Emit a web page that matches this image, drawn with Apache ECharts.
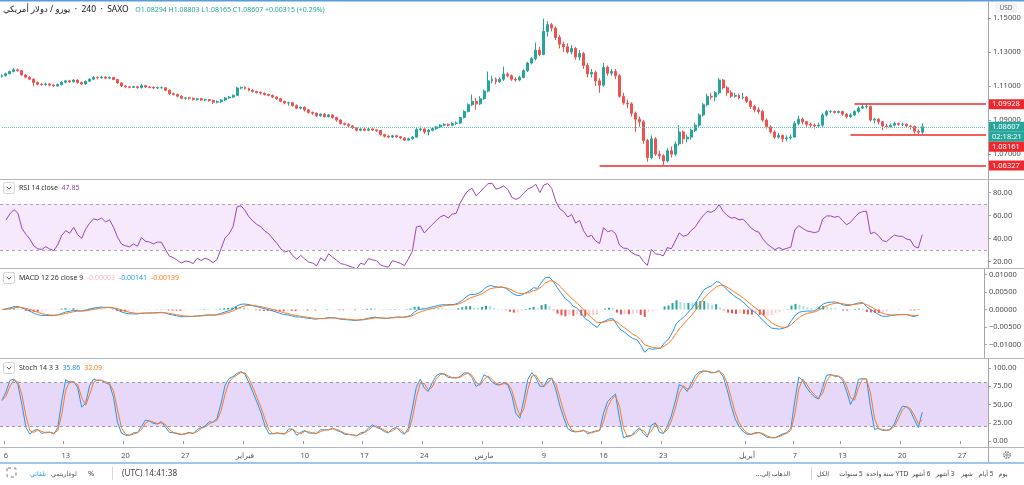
<!DOCTYPE html>
<html><head><meta charset="utf-8">
<script src="https://cdn.jsdelivr.net/npm/echarts@6/dist/echarts.min.js"></script>
<style>html,body{margin:0;padding:0;background:#fff;}#c{width:1024px;height:485px;}</style>
</head><body><div id="c"></div>
<script>
// ---- data: 8-hour bars, EUR/USD, 3 Jan 2020 (last bar) .. 21 Apr 2020 ----
const closes = [1.1160,
1.1172,1.1185,1.1195, 1.1190,1.1165,1.1152, 1.1140,1.1120,1.1110, 1.1108,1.1112,1.1105, 1.1100,1.1108,1.1122,
1.1130,1.1125,1.1135, 1.1120,1.1112,1.1128, 1.1140,1.1150,1.1148, 1.1152,1.1146,1.1150, 1.1138,1.1118,1.1100,
1.1095,1.1092,1.1096, 1.1090,1.1102,1.1094, 1.1092,1.1088,1.1090, 1.1090,1.1075,1.1055, 1.1050,1.1040,1.1028,
1.1030,1.1028,1.1020, 1.1025,1.1018,1.1020, 1.1015,1.1005,1.1008, 1.1018,1.1030,1.1035, 1.1045,1.1088,1.1092,
1.1085,1.1075,1.1068, 1.1062,1.1058,1.1050, 1.1045,1.1035,1.1025, 1.1010,1.1000,1.1002, 1.0985,1.0970,1.0975,
1.0960,1.0945,1.0940, 1.0925,1.0935,1.0920, 1.0930,1.0915,1.0900, 1.0880,1.0875,1.0865, 1.0855,1.0840,1.0848,
1.0840,1.0848,1.0842, 1.0838,1.0815,1.0805, 1.0800,1.0808,1.0802, 1.0795,1.0782,1.0790, 1.0800,1.0845,1.0848,
1.0830,1.0840,1.0850, 1.0860,1.0870,1.0875, 1.0870,1.0880,1.0882, 1.0915,1.0950,1.0990, 1.1010,1.0995,1.1025,
1.1070,1.1130,1.1140, 1.1125,1.1140,1.1170, 1.1160,1.1140,1.1135, 1.1150,1.1190,1.1235, 1.1260,1.1310,1.1285,
1.1420,1.1460,1.1440, 1.1385,1.1345,1.1330, 1.1300,1.1320,1.1270, 1.1290,1.1220,1.1170, 1.1180,1.1130,1.1105,
1.1210,1.1175,1.1185, 1.1160,1.1040,1.1000, 1.0995,1.0940,1.0905, 1.0890,1.0780,1.0680, 1.0790,1.0700,1.0690,
1.0660,1.0720,1.0700, 1.0760,1.0830,1.0790, 1.0800,1.0840,1.0870, 1.0930,1.0990,1.1040, 1.1035,1.1060,1.1135,
1.1090,1.1060,1.1040, 1.1045,1.1030,1.1035, 1.1010,1.0980,1.0960, 1.0950,1.0900,1.0860, 1.0830,1.0800,1.0810,
1.0790,1.0795,1.0800, 1.0880,1.0905,1.0890, 1.0875,1.0870,1.0865, 1.0870,1.0930,1.0950, 1.0950,1.0945,1.0950,
1.0935,1.0920,1.0930, 1.0950,1.0970,1.0978, 1.0980,1.0900,1.0905, 1.0890,1.0865,1.0860, 1.0870,1.0880,1.0875,
1.0875,1.0865,1.0862, 1.0835,1.0829,1.08607];
const highs = [1.1168,
1.1178,1.1190,1.1205, 1.1202,1.1194,1.1170, 1.1158,1.1145,1.1126, 1.1118,1.1120,1.1116, 1.1110,1.1114,1.1128,
1.1136,1.1136,1.1140, 1.1138,1.1126,1.1132, 1.1146,1.1158,1.1156, 1.1160,1.1158,1.1156, 1.1154,1.1142,1.1122,
1.1104,1.1100,1.1100, 1.1100,1.1112,1.1106, 1.1100,1.1098,1.1096, 1.1098,1.1094,1.1080, 1.1062,1.1056,1.1046,
1.1036,1.1036,1.1032, 1.1030,1.1030,1.1026, 1.1024,1.1020,1.1014, 1.1022,1.1036,1.1042, 1.1050,1.1094,1.1096,
1.1098,1.1090,1.1080, 1.1072,1.1068,1.1062, 1.1056,1.1050,1.1040, 1.1030,1.1014,1.1008, 1.1005,1.0992,1.0980,
1.0980,1.0964,1.0950, 1.0944,1.0940,1.0940, 1.0936,1.0934,1.0920, 1.0905,1.0886,1.0880, 1.0870,1.0860,1.0852,
1.0852,1.0854,1.0852, 1.0846,1.0842,1.0820, 1.0812,1.0814,1.0812, 1.0806,1.0800,1.0796, 1.0806,1.0856,1.0862,
1.0852,1.0848,1.0858, 1.0866,1.0876,1.0882, 1.0880,1.0888,1.0892, 1.0920,1.0958,1.0998, 1.1050,1.1030,1.1040,
1.1080,1.1185,1.1160, 1.1150,1.1150,1.1214, 1.1180,1.1168,1.1150, 1.1160,1.1198,1.1242, 1.1270,1.1355,1.1330,
1.1495,1.1480,1.1470, 1.1450,1.1400,1.1360, 1.1350,1.1340,1.1330, 1.1310,1.1300,1.1235, 1.1200,1.1190,1.1145,
1.1235,1.1220,1.1200, 1.1200,1.1170,1.1060, 1.1020,1.1005,1.0950, 1.0920,1.0900,1.0790, 1.0810,1.0800,1.0720,
1.0700,1.0735,1.0745, 1.0775,1.0870,1.0840, 1.0815,1.0850,1.0885, 1.0940,1.1000,1.1055, 1.1060,1.1070,1.1147,
1.1140,1.1100,1.1075, 1.1060,1.1055,1.1060, 1.1040,1.1020,1.0990, 1.0975,1.0960,1.0910, 1.0870,1.0840,1.0825,
1.0815,1.0810,1.0815, 1.0895,1.0925,1.0915, 1.0895,1.0885,1.0880, 1.0885,1.0940,1.0960, 1.0958,1.0955,1.0956,
1.0955,1.0940,1.0940, 1.0958,1.0980,1.0990, 1.0993,1.0985,1.0915, 1.0912,1.0895,1.0878, 1.0880,1.0890,1.0886,
1.0885,1.0880,1.0872, 1.0868,1.0845,1.08803];
const lows = [1.1150,
1.1156,1.1168,1.1180, 1.1184,1.1160,1.1146, 1.1134,1.1098,1.1104, 1.1100,1.1102,1.1098, 1.1094,1.1096,1.1104,
1.1116,1.1118,1.1120, 1.1114,1.1106,1.1108, 1.1124,1.1136,1.1140, 1.1144,1.1140,1.1140, 1.1134,1.1112,1.1094,
1.1090,1.1086,1.1088, 1.1084,1.1086,1.1088, 1.1086,1.1082,1.1082, 1.1084,1.1070,1.1048, 1.1044,1.1034,1.1022,
1.1020,1.1020,1.1014, 1.1014,1.1012,1.1010, 1.1008,1.0994,1.0998, 1.1000,1.1012,1.1024, 1.1030,1.1040,1.1080,
1.1078,1.1068,1.1062, 1.1056,1.1050,1.1044, 1.1040,1.1028,1.1018, 1.1004,1.0992,1.0984, 1.0978,1.0964,1.0962,
1.0950,1.0938,1.0930, 1.0918,1.0920,1.0915, 1.0915,1.0908,1.0890, 1.0874,1.0868,1.0858, 1.0848,1.0834,1.0835,
1.0835,1.0834,1.0836, 1.0830,1.0808,1.0798, 1.0794,1.0795,1.0796, 1.0788,1.0778,1.0778, 1.0784,1.0796,1.0836,
1.0820,1.0810,1.0834, 1.0842,1.0852,1.0864, 1.0862,1.0864,1.0872, 1.0876,1.0908,1.0944, 1.0982,1.0960,1.0988,
1.1018,1.1062,1.1115, 1.1110,1.1118,1.1130, 1.1150,1.1130,1.1125, 1.1128,1.1144,1.1182, 1.1226,1.1250,1.1275,
1.1280,1.1390,1.1420, 1.1370,1.1320,1.1300, 1.1290,1.1285,1.1255, 1.1250,1.1200,1.1150, 1.1150,1.1100,1.1060,
1.1095,1.1160,1.1160, 1.1140,1.1030,1.0990, 1.0970,1.0920,1.0830, 1.0860,1.0760,1.0655, 1.0670,1.0690,1.0670,
1.0636,1.0650,1.0680, 1.0690,1.0750,1.0760, 1.0770,1.0785,1.0830, 1.0860,1.0920,1.0980, 1.1020,1.1010,1.1050,
1.1080,1.1040,1.1030, 1.1030,1.1020,1.1020, 1.1000,1.0965,1.0945, 1.0935,1.0890,1.0850, 1.0820,1.0790,1.0790,
1.0770,1.0775,1.0785, 1.0795,1.0870,1.0875, 1.0860,1.0855,1.0850, 1.0855,1.0860,1.0920, 1.0940,1.0938,1.0940,
1.0925,1.0910,1.0912, 1.0922,1.0942,1.0965, 1.0968,1.0890,1.0880, 1.0875,1.0840,1.0850, 1.0852,1.0862,1.0866,
1.0865,1.0855,1.0845, 1.0820,1.0818,1.08165];
const firstOpen = 1.1155;
const futureSlots = 16;

// time-axis labels (bar index of the first bar of that day)
const tickIdx  = [1,16,31,46,61,76,91,106,121,136,151,166,187,199,211,226,241];
const tickText = ['6','13','20','27','فبراير','10','17','24','مارس','9','16','23','أبريل','7','13','20','27'];

// price-scale tick labels
const priceTicks = [1.07,1.09,1.11,1.13,1.15];
const rsiTicks   = [20,40,60,80];
const macdTicks  = [-0.01,-0.005,0,0.005,0.01];
const stochTicks = [0,25,50,75,100];

// drawn horizontal levels and live price
const levelPrices = [1.09928, 1.08161, 1.06327];
const levelStart  = [214, 213, 150];
const lastPrice = 1.08607;
const countdown = '02:18:21';

// header texts
const titleText = 'يورو / دولار أمريكي';
const titleMeta = '  ·  240  ·  SAXO   ';
const ohlcText = 'O1.08294 H1.08803 L1.08165 C1.08607 +0.00315 (+0.29%)';
const rsiVal = '47.85';
const macdVals = ['-0.00003','-0.00141','-0.00139'];
const stochVals = ['35.86','32.09'];

// ---- build ----
const FONT = '"Noto Sans","DejaVu Sans",sans-serif';
const UP='#26a69a', DOWN='#ef5350', LRED='#f0282d', TEAL='#26a69a';
const RSIC='#9a45c2', BLUE='#2196f3', ORANGE='#ff7a1a';
const N = closes.length;
const slots = N + futureSlots;
const cats = Array.from({length: slots}, (_, i) => String(i));
const opens = closes.map((c, i) => i === 0 ? firstOpen : closes[i - 1]);
const candles = closes.map((c, i) => [opens[i], c,
  Math.min(lows[i], opens[i], c), Math.max(highs[i], opens[i], c)]);

// indicators (lengths adapted because each bar here spans two 4h bars)
function rsi(src, len) {
  const out = ['-']; let ag = 0.0004, al = 0.0004;
  for (let i = 1; i < src.length; i++) {
    const d = src[i] - src[i-1];
    ag = (ag*(len-1) + Math.max(d,0))/len; al = (al*(len-1) + Math.max(-d,0))/len;
    out.push(100 - 100/(1 + ag/al));
  }
  return out;
}
function ema(src, len) { const a = 2/(len+1); let e = src[0]; return src.map(v => (e = a*v + (1-a)*e)); }
function sma(src, len) { return src.map((_, i) => { const s = src.slice(Math.max(0,i-len+1), i+1); return s.reduce((a,b)=>a+b,0)/s.length; }); }
const rsiLine = rsi(closes, 12);
const fast = ema(closes, 5.5), slow = ema(closes, 12.5);
const macd = closes.map((_, i) => fast[i] - slow[i]);
const signal = ema(macd, 4);
const hist = macd.map((m, i) => m - signal[i]);
const histData = hist.map((h, i) => {
  const p = i ? hist[i-1] : h;
  const col = h >= 0 ? (h >= p ? '#26a69a' : '#b2dfdb') : (h < p ? '#ef5350' : '#ffcdd2');
  return {value: h, itemStyle: {color: col}};
});
const rawK = closes.map((c, i) => {
  const lo = Math.min(...lows.slice(Math.max(0,i-6), i+1)), hi = Math.max(...highs.slice(Math.max(0,i-6), i+1));
  return hi > lo ? (c - lo)/(hi - lo)*100 : 50;
});
const kLine = sma(rawK, 2), dLine = sma(kLine, 2);

const chart = echarts.init(document.getElementById('c'), null, {renderer: 'canvas', width: 1024, height: 485});
const grids = [
  {left: 0, width: 988, top: 2, height: 177},
  {left: 0, width: 988, top: 180, height: 88},
  {left: 0, width: 988, top: 269, height: 89},
  {left: 0, width: 988, top: 359, height: 88}
];
const tickSet = new Set(tickIdx);
const xAxes = grids.map((g, k) => ({
  type: 'category', gridIndex: k, data: cats, boundaryGap: true,
  show: k === 3,
  axisLine: {show: false},
  axisTick: {show: k === 3, interval: (i) => tickSet.has(i), length: 3, lineStyle: {color: '#9598a1'}},
  axisLabel: {show: k === 3, interval: (i) => tickSet.has(i), margin: 5, fontSize: 7.5, color: '#555', fontFamily: FONT,
    formatter: (v, i) => tickText[tickIdx.indexOf(Number(v))] || ''},
  splitLine: {show: false}
}));
function yAx(k, min, max, ticks, fmt) {
  return {
    type: 'value', gridIndex: k, position: 'right', min, max, scale: true,
    axisLine: {show: true, lineStyle: {color: '#a3a6ad', width: 1}},
    axisTick: {show: true, length: 3, customValues: ticks, lineStyle: {color: '#a3a6ad'}},
    axisLabel: {show: true, customValues: ticks, margin: 5, fontSize: 7.5, color: '#4a4a4a', fontFamily: FONT, formatter: fmt},
    splitLine: {show: false}
  };
}
const f5 = v => (v < 0 ? '\u2212' : '') + Math.abs(v).toFixed(5);
const f2 = v => v.toFixed(2);

const option = {
  animation: false,
  textStyle: {fontFamily: FONT},
  grid: grids,
  xAxis: xAxes,
  yAxis: [
    yAx(0, 1.0554, 1.1593, priceTicks, f5),
    yAx(1, 14.3, 90.9, rsiTicks, f2),
    yAx(2, -0.0139, 0.01165, macdTicks, f5),
    yAx(3, -8.1, 112.2, stochTicks, f2)
  ],
  series: [
    {
      type: 'candlestick', xAxisIndex: 0, yAxisIndex: 0, data: candles, barWidth: '62%',
      itemStyle: {color: UP, color0: DOWN, borderColor: UP, borderColor0: DOWN, borderWidth: 1},
      markLine: {
        symbol: ['none','none'], silent: true, label: {show: false}, animation: false,
        data: [
          [{coord: [cats[0], lastPrice], lineStyle: {color: '#5fbfb4', type: 'dotted', width: 1}}, {coord: [cats[slots-1], lastPrice]}],
          ...levelPrices.map((p, k) => [
            {coord: [cats[levelStart[k]], p], lineStyle: {color: LRED, width: 1.6, type: 'solid'}},
            {coord: [cats[slots-1], p]}
          ])
        ]
      }
    },
    {
      type: 'line', xAxisIndex: 1, yAxisIndex: 1, data: rsiLine, showSymbol: false,
      lineStyle: {color: RSIC, width: 1}, itemStyle: {color: RSIC},
      markArea: {silent: true, itemStyle: {color: '#f5e9fb'}, data: [[{yAxis: 30}, {yAxis: 70}]]},
      markLine: {symbol: ['none','none'], silent: true, label: {show: false},
        lineStyle: {color: '#a8a8b0', type: [3,3], width: 1}, data: [{yAxis: 30}, {yAxis: 70}]}
    },
    {type: 'bar', xAxisIndex: 2, yAxisIndex: 2, data: histData, barWidth: 2},
    {type: 'line', xAxisIndex: 2, yAxisIndex: 2, data: macd, showSymbol: false, lineStyle: {color: BLUE, width: 1}},
    {type: 'line', xAxisIndex: 2, yAxisIndex: 2, data: signal, showSymbol: false, lineStyle: {color: ORANGE, width: 1}},
    {
      type: 'line', xAxisIndex: 3, yAxisIndex: 3, data: kLine, showSymbol: false, lineStyle: {color: BLUE, width: 1},
      markArea: {silent: true, itemStyle: {color: '#e7d7f8'}, data: [[{yAxis: 20}, {yAxis: 80}]]},
      markLine: {symbol: ['none','none'], silent: true, label: {show: false},
        lineStyle: {color: '#9a9aa2', type: [3,3], width: 1}, data: [{yAxis: 20}, {yAxis: 80}]}
    },
    {type: 'line', xAxisIndex: 3, yAxisIndex: 3, data: dLine, showSymbol: false, lineStyle: {color: ORANGE, width: 1}}
  ]
};
chart.setOption(option);

// ---- static decorations ----
function hline(y, x1, x2, color, w) { return {type: 'line', shape: {x1, y1: y, x2, y2: y}, style: {stroke: color, lineWidth: w || 1}, z: 50, silent: true}; }
function txt(x, y, text, opt) {
  return {type: 'text', x, y, z: 60, silent: true, style: Object.assign({text, fill: '#555', font: '7px ' + FONT, align: 'left', verticalAlign: 'middle'}, opt || {})};
}
function chevBox(y) {
  return [
    {type: 'rect', shape: {x: 3.5, y: y - 5.5, width: 11, height: 11, r: 2}, style: {fill: '#fff', stroke: '#cfd2d8', lineWidth: 1}, z: 60, silent: true},
    {type: 'polyline', shape: {points: [[6.8, y - 1.2], [9, y + 1.2], [11.2, y - 1.2]]}, style: {stroke: '#555', lineWidth: 1, fill: null}, z: 61, silent: true}
  ];
}
const els = [];
els.push(hline(0.75, 0, 1024, '#5b9bd8', 1.5));
[179.5, 268.5, 358.5, 447.5].forEach(y => els.push(hline(y, 0, 1024, '#b4b6bc', 1)));
els.push({type: 'line', shape: {x1: 988.5, y1: 447, x2: 988.5, y2: 462}, style: {stroke: '#a3a6ad', lineWidth: 1}, z: 50, silent: true});
els.push(hline(463, 0, 1024, '#7fb2e5', 1.5));
// title row
els.push({type: 'text', x: 3, y: 10, z: 60, silent: true, style: {
  text: '{t|' + titleText + '}{m|' + titleMeta + '}{v|' + ohlcText + '}', verticalAlign: 'middle', align: 'left',
  rich: {t: {fill: '#131722', fontSize: 8.5, fontFamily: FONT}, m: {fill: '#131722', fontSize: 8.5, fontFamily: FONT}, v: {fill: '#26a69a', fontSize: 7, fontFamily: FONT}}
}});
// USD badge
els.push({type: 'rect', shape: {x: 995, y: 3, width: 22, height: 10, r: 2}, style: {fill: '#f1f3f6'}, z: 60, silent: true});
els.push(txt(1006, 8, 'USD', {fill: '#666', font: '6.5px ' + FONT, align: 'center'}));
// indicator headers
els.push(...chevBox(188));
els.push({type: 'text', x: 19, y: 188, z: 60, silent: true, style: {text: '{a|RSI 14 close  }{b|' + rsiVal + '}', verticalAlign: 'middle',
  rich: {a: {fill: '#333', fontSize: 7, fontFamily: FONT}, b: {fill: RSIC, fontSize: 7, fontFamily: FONT}}}});
els.push(...chevBox(278));
els.push({type: 'text', x: 19, y: 278, z: 60, silent: true, style: {text: '{a|MACD 12 26 close 9  }{h|' + macdVals[0] + '}{s|  }{m|' + macdVals[1] + '}{s|  }{g|' + macdVals[2] + '}', verticalAlign: 'middle',
  rich: {a: {fill: '#333', fontSize: 7, fontFamily: FONT}, h: {fill: '#f7b6c6', fontSize: 7, fontFamily: FONT}, s: {fontSize: 7},
    m: {fill: BLUE, fontSize: 7, fontFamily: FONT}, g: {fill: ORANGE, fontSize: 7, fontFamily: FONT}}}});
els.push(...chevBox(368));
els.push({type: 'text', x: 19, y: 368, z: 60, silent: true, style: {text: '{a|Stoch 14 3 3  }{k|' + stochVals[0] + '}{s|  }{d|' + stochVals[1] + '}', verticalAlign: 'middle',
  rich: {a: {fill: '#333', fontSize: 7, fontFamily: FONT}, s: {fontSize: 7}, k: {fill: BLUE, fontSize: 7, fontFamily: FONT}, d: {fill: ORANGE, fontSize: 7, fontFamily: FONT}}}});
// gear on time axis
els.push({type: 'circle', shape: {cx: 1007, cy: 455, r: 3.2}, style: {fill: 'none', stroke: '#666', lineWidth: 1.2, lineDash: [1.6, 0.9]}, z: 60, silent: true});
els.push({type: 'circle', shape: {cx: 1007, cy: 455, r: 1.2}, style: {fill: 'none', stroke: '#666', lineWidth: 0.8}, z: 60, silent: true});
// bottom toolbar
els.push({type: 'rect', shape: {x: 7, y: 468, width: 9, height: 9, r: 1}, style: {fill: 'none', stroke: '#777', lineWidth: 1, lineDash: [3, 3]}, z: 60, silent: true});
const TB = 474;
const AR = '6.3px ' + FONT;
els.push(txt(38, TB, 'تلقائي', {fill: '#2196f3', align: 'center', font: AR}));
els.push(txt(64, TB, 'لوغاريتمي', {align: 'center', font: AR}));
els.push(txt(91, TB, '%', {align: 'center', font: '7.5px ' + FONT, fill: '#444'}));
els.push({type: 'line', shape: {x1: 112.5, y1: 467, x2: 112.5, y2: 480}, style: {stroke: '#d5d7dc', lineWidth: 1}, z: 60, silent: true});
els.push(txt(122, TB, '(UTC) 14:41:38', {fill: '#444', font: '8.2px ' + FONT}));
const ranges = [
  ['يوم', 1003], ['\u200F5 أيام', 986], ['شهر', 967], ['\u200F3 أشهر', 945], ['\u200F6 أشهر', 921],
  ['YTD', 902], ['سنة واحدة', 880], ['\u200F5 سنوات', 851], ['الكل', 823], ['الذهاب إلى...\u200F', 773]
];
ranges.forEach(r => els.push(txt(r[1], TB, r[0], {align: 'center', fill: '#444', font: r[0] === 'YTD' ? '7px ' + FONT : AR})));
els.push({type: 'line', shape: {x1: 811.5, y1: 467, x2: 811.5, y2: 480}, style: {stroke: '#d5d7dc', lineWidth: 1}, z: 60, silent: true});

// ---- price tags on the right scale, placed through the axis scale ----
const tags = [
  {t: levelPrices[0].toFixed(5), p: levelPrices[0], c: LRED},
  {t: lastPrice.toFixed(5), p: lastPrice, c: TEAL},
  {t: countdown, p: lastPrice, c: TEAL, follow: true},
  {t: levelPrices[1].toFixed(5), p: levelPrices[1], c: LRED},
  {t: levelPrices[2].toFixed(5), p: levelPrices[2], c: LRED}
];
const TH = 10;
let prevBottom = -1e9;
tags.forEach(g => {
  let y = chart.convertToPixel({yAxisIndex: 0}, g.p) - TH/2;
  if (g.follow || y < prevBottom) y = prevBottom;
  prevBottom = y + TH;
  els.push({type: 'rect', shape: {x: 989, y, width: 35, height: TH}, style: {fill: g.c}, z: 100, silent: true});
  els.push({type: 'text', x: 992, y: y + TH/2, z: 101, silent: true, style: {text: g.t, fill: '#fff', font: '7.5px ' + FONT, verticalAlign: 'middle'}});
});
chart.setOption({graphic: {elements: els}});
</script>
</body></html>
